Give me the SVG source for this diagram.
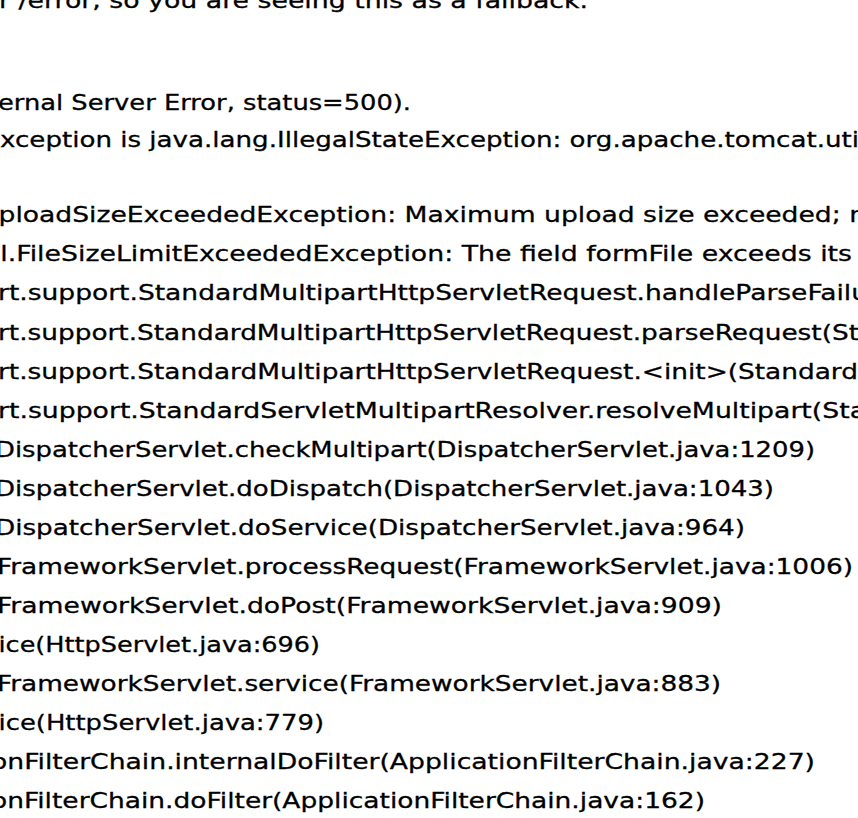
<svg xmlns="http://www.w3.org/2000/svg" width="858" height="818" viewBox="0 0 858 818">
<style>
  .t { font-family: "DejaVu Sans", "Noto Sans CJK KR", sans-serif; font-size: 22px; fill: #000; stroke: #000; stroke-width: 0.3px; }
</style>
<rect x="0" y="0" width="858" height="818" fill="#ffffff"/>
<g id="page-text">
  <text class="t" x="-1" y="7.5" textLength="589" lengthAdjust="spacingAndGlyphs">r /error, so you are seeing this as a fallback.</text>
  <text class="t" x="-2" y="110" textLength="413" lengthAdjust="spacingAndGlyphs">ernal Server Error, status=500).</text>
  <text class="t" x="0" y="147" textLength="859" lengthAdjust="spacingAndGlyphs">xception is java.lang.IllegalStateException: org.apache.tomcat.uti</text>
  <text class="t" x="-1.5" y="222.3" textLength="867.5" lengthAdjust="spacingAndGlyphs">ploadSizeExceededException: Maximum upload size exceeded; n</text>
  <text class="t" x="0.3" y="261.4" textLength="851.7" lengthAdjust="spacingAndGlyphs">l.FileSizeLimitExceededException: The field formFile exceeds its</text>
  <text class="t" x="-2" y="300.4" textLength="870" lengthAdjust="spacingAndGlyphs">rt.support.StandardMultipartHttpServletRequest.handleParseFailu</text>
  <text class="t" x="-2" y="339.5" textLength="861" lengthAdjust="spacingAndGlyphs">rt.support.StandardMultipartHttpServletRequest.parseRequest(St</text>
  <text class="t" x="-2" y="378.6" textLength="860" lengthAdjust="spacingAndGlyphs">rt.support.StandardMultipartHttpServletRequest.&lt;init&gt;(Standard</text>
  <text class="t" x="-2" y="417.7" textLength="868" lengthAdjust="spacingAndGlyphs">rt.support.StandardServletMultipartResolver.resolveMultipart(Sta</text>
  <text class="t" x="-5" y="456.7" textLength="820" lengthAdjust="spacingAndGlyphs">DispatcherServlet.checkMultipart(DispatcherServlet.java:1209)</text>
  <text class="t" x="-5" y="495.8" textLength="779" lengthAdjust="spacingAndGlyphs">DispatcherServlet.doDispatch(DispatcherServlet.java:1043)</text>
  <text class="t" x="-5" y="534.9" textLength="750" lengthAdjust="spacingAndGlyphs">DispatcherServlet.doService(DispatcherServlet.java:964)</text>
  <text class="t" x="-3" y="573.9" textLength="856" lengthAdjust="spacingAndGlyphs">FrameworkServlet.processRequest(FrameworkServlet.java:1006)</text>
  <text class="t" x="-3" y="613" textLength="725" lengthAdjust="spacingAndGlyphs">FrameworkServlet.doPost(FrameworkServlet.java:909)</text>
  <text class="t" x="-1.5" y="652.1" textLength="321.5" lengthAdjust="spacingAndGlyphs">ice(HttpServlet.java:696)</text>
  <text class="t" x="-3" y="691.1" textLength="724" lengthAdjust="spacingAndGlyphs">FrameworkServlet.service(FrameworkServlet.java:883)</text>
  <text class="t" x="-1.5" y="730.2" textLength="325.5" lengthAdjust="spacingAndGlyphs">ice(HttpServlet.java:779)</text>
  <text class="t" x="-9" y="769.3" textLength="824" lengthAdjust="spacingAndGlyphs">onFilterChain.internalDoFilter(ApplicationFilterChain.java:227)</text>
  <text class="t" x="-9" y="808.3" textLength="714" lengthAdjust="spacingAndGlyphs">onFilterChain.doFilter(ApplicationFilterChain.java:162)</text>
</g>
</svg>
